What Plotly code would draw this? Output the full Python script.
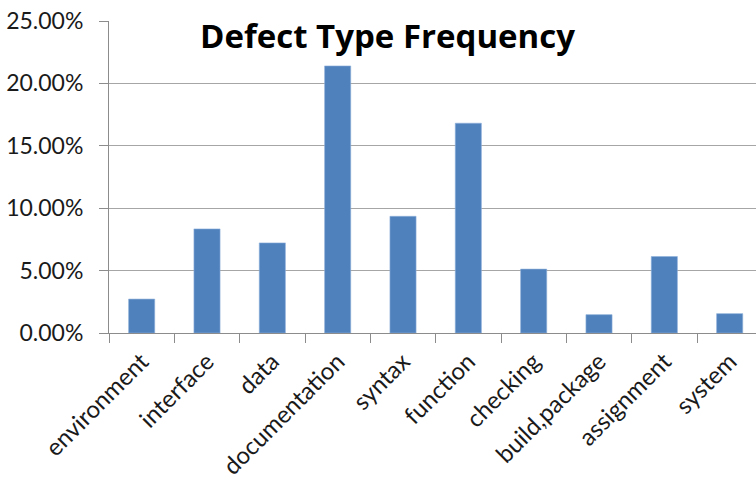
import plotly.graph_objects as go

categories = ["environment", "interface", "data", "documentation", "syntax",
              "function", "checking", "build,package", "assignment", "system"]
frequency = [0.0272, 0.0834, 0.0722, 0.2140, 0.0935,
             0.1681, 0.0512, 0.0147, 0.0613, 0.0155]
y_ticks = [0, 0.05, 0.10, 0.15, 0.20, 0.25]
title_text = "Defect Type Frequency"

FONT = "Lato"
AXIS_GRAY = "#8c8c8c"

fig = go.Figure()
fig.add_trace(go.Bar(
    x=list(range(len(categories))),
    y=frequency,
    width=0.4,
    marker=dict(color="#4F81BD", line=dict(color="#8FB0DA", width=0.6)),
    hoverinfo="skip",
))

fig.update_layout(
    width=756, height=482,
    margin=dict(l=109, r=0, t=21, b=149),
    paper_bgcolor="white", plot_bgcolor="white",
    showlegend=False,
    font=dict(family=FONT, color="#1a1a1a"),
    annotations=[dict(
        text="<b>" + title_text + "</b>",
        xref="paper", yref="paper", x=0.4305, y=0.954,
        xanchor="center", yanchor="middle", showarrow=False,
        font=dict(family="Open Sans", size=33, color="black"),
    )],
)

fig.update_xaxes(
    range=[-0.5, 9.403],
    tickmode="array",
    tickvals=list(range(len(categories))),
    ticktext=categories,
    tickangle=-45,
    tickfont=dict(family=FONT, size=24, color="#1a1a1a"),
    ticklabelstandoff=4,
    showgrid=False,
    showline=True, linecolor=AXIS_GRAY, linewidth=1,
    ticks="",
    zeroline=False,
    automargin=False,
)
# boundary tick marks between categories
fig.update_layout(xaxis2=dict(
    overlaying="x", range=[-0.5, 9.403], side="bottom",
    tickmode="array", tickvals=[i - 0.5 for i in range(len(categories) + 1)],
    ticktext=[""] * (len(categories) + 1),
    ticks="outside", ticklen=9, tickcolor=AXIS_GRAY, tickwidth=1,
    showgrid=False, showline=False, zeroline=False, anchor="y",
    automargin=False,
))
fig.add_trace(go.Scatter(x=[None], y=[None], xaxis="x2", yaxis="y", showlegend=False))

fig.update_yaxes(
    range=[0, 0.25],
    tickmode="array",
    tickvals=y_ticks,
    tickformat=".2%",
    tickfont=dict(family=FONT, size=23, color="#1a1a1a"),
    showgrid=True, gridcolor="#a6a6a6", gridwidth=1,
    showline=True, linecolor=AXIS_GRAY, linewidth=1,
    ticks="outside", ticklen=9, tickcolor=AXIS_GRAY,
    ticklabelstandoff=11,
    zeroline=False,
    automargin=False,
)

fig.write_html("out.html")
